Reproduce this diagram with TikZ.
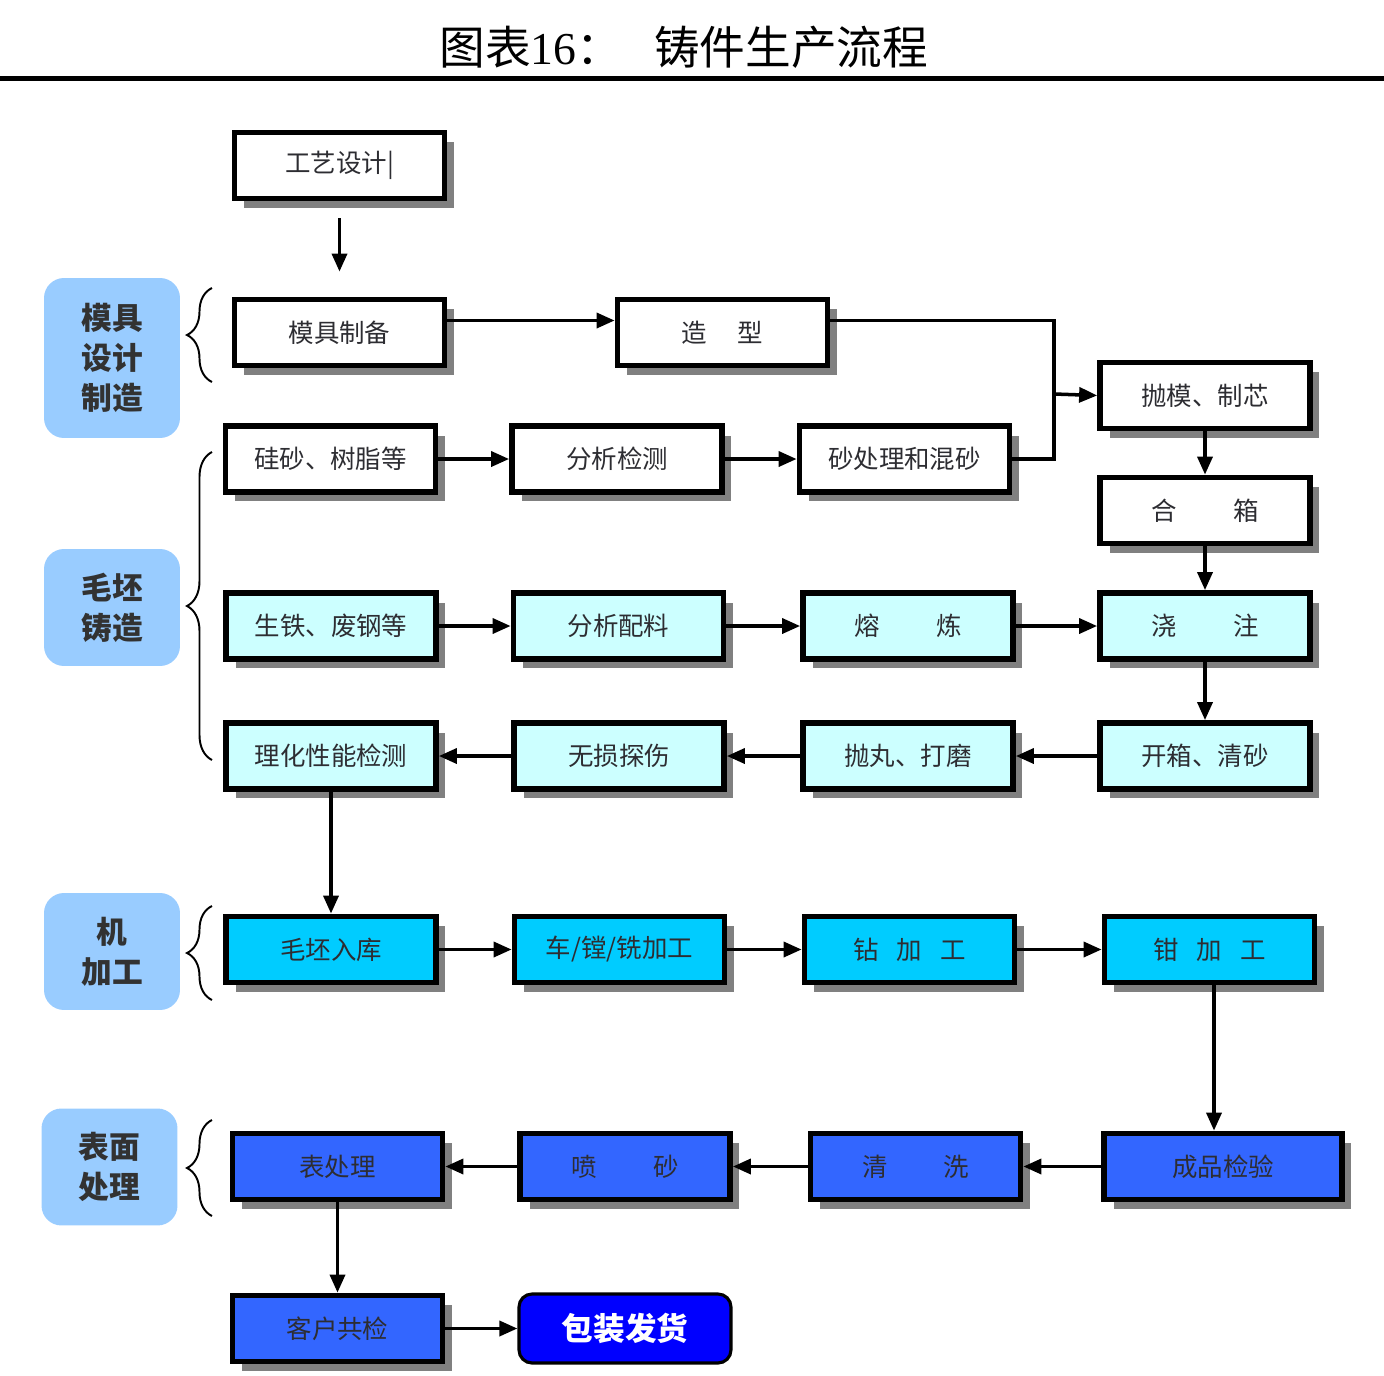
\documentclass[tikz,border=0pt]{standalone}
\usepackage{fontspec}
\setmainfont{Noto Sans CJK SC}
\newfontfamily\numfont{Liberation Serif}
\usepackage{xcolor}
\usetikzlibrary{arrows.meta, positioning, shadows, decorations.pathreplacing}
\definecolor{catblue}{RGB}{153,204,255}
\definecolor{paleaqua}{RGB}{204,255,255}
\definecolor{skycyan}{RGB}{0,204,255}
\definecolor{royal}{RGB}{51,102,255}
\definecolor{deepblue}{RGB}{0,0,255}
\definecolor{shadowgray}{RGB}{128,128,128}
\definecolor{textgray}{RGB}{45,45,50}
\definecolor{catgray}{RGB}{50,50,50}
\tikzset{
  stepbox/.style={draw=black, line width=3.3pt, minimum width=4.2cm, minimum height=1.32cm,
    inner sep=0pt, font=\fontsize{14.5pt}{17pt}\selectfont\color{textgray},
    drop shadow={shadow xshift=0.19cm, shadow yshift=-0.19cm, fill=shadowgray, opacity=1}},
  plainbox/.style={stepbox, fill=white},
  aquabox/.style={stepbox, fill=paleaqua},
  cyanbox/.style={stepbox, fill=skycyan},
  bluebox/.style={stepbox, fill=royal},
  catbox/.style={fill=catblue, rounded corners=0.4cm, minimum width=2.72cm, minimum height=2.34cm,
    align=center, font=\fontsize{17.5pt}{22.8pt}\selectfont\bfseries\color{catgray}},
  link/.style={line width=2pt},
  arr/.style={link, -{Triangle[length=0.36cm, width=0.3cm]}},
  grp/.style={decorate, decoration={brace, amplitude=0.5cm}, line width=1.1pt},
}

\begin{document}
\begin{tikzpicture}[x=0.02cm, y=-0.02cm]
  \useasboundingbox[fill=white] (0,0) rectangle (1384,1376);
  \node (title) at (684,47) {\fontsize{26pt}{30pt}\selectfont 图表{\numfont 16}：\hspace{0.7em}铸件生产流程};
  \draw[line width=0.1cm] (0,78) -- (1384,78);

  \node[catbox, minimum height=3.2cm] (moldcat) at (112,358) {模具\\设计\\制造};
  \node[catbox] (castcat) at (112,607.5) {毛坯\\铸造};
  \node[catbox] (machcat) at (112,951.5) {机\\加工};
  \node[catbox] (surfcat) at (109.5,1167) {表面\\处理};

  \draw[grp] (212,382) -- (212,288);
  \draw[grp] (212,760) -- (212,452);
  \draw[grp] (212,1000) -- (212,906);
  \draw[grp] (212,1216) -- (212,1120);

  \node[plainbox] (craft) at (339.5,165.5) {工艺设计|};
  \node[plainbox] (mold) at (339.5,332.5) {模具制备};
  \node[plainbox] (shape) at (722.5,332.5) {造\hspace{1.2em}型};
  \node[plainbox] (core) at (1205,395.5) {抛模、制芯};
  \node[plainbox] (sand) at (330.5,459) {硅砂、树脂等};
  \node[plainbox] (sandtest) at (617,459) {分析检测};
  \node[plainbox] (mix) at (904.5,459) {砂处理和混砂};
  \node[plainbox] (close) at (1205,510.5) {合\hspace{2.2em}箱};

  \node[aquabox] (iron) at (331,626) {生铁、废钢等};
  \node[aquabox] (batch) at (618.5,626) {分析配料};
  \node[aquabox] (melt) at (908,626) {熔\hspace{2.2em}炼};
  \node[aquabox] (pour) at (1205,626) {浇\hspace{2.2em}注};
  \node[aquabox] (phys) at (331,756) {理化性能检测};
  \node[aquabox] (ndt) at (619,756) {无损探伤};
  \node[aquabox] (shot) at (908,756) {抛丸、打磨};
  \node[aquabox] (open) at (1205,756) {开箱、清砂};

  \node[cyanbox] (blank) at (331,949.5) {毛坯入库};
  \node[cyanbox] (turn) at (619.5,949.5) {车/镗/铣加工};
  \node[cyanbox] (drill) at (909.5,949.5) {钻\hspace{0.7em}加\hspace{0.7em}工};
  \node[cyanbox] (fit) at (1209.5,949.5) {钳\hspace{0.7em}加\hspace{0.7em}工};

  \node[bluebox] (surf) at (337.5,1166.5) {表处理};
  \node[bluebox] (blast) at (625,1166.5) {喷\hspace{2.2em}砂};
  \node[bluebox] (wash) at (915.5,1166.5) {清\hspace{2.2em}洗};
  \node[bluebox, minimum width=4.76cm] (final) at (1223,1166.5) {成品检验};
  \node[bluebox] (cust) at (337.5,1328.5) {客户共检};
  \node[draw=black, line width=1.8pt, fill=deepblue, rounded corners=0.26cm,
        minimum width=4.24cm, minimum height=1.38cm,
        font=\fontsize{18pt}{20pt}\selectfont\bfseries\color{white}] (pack) at (625,1328.5) {包装发货};

  \coordinate (bus) at (1054,394);
  \draw[arr, shorten <=0.34cm, shorten >=0.5cm] (craft) -- (mold);
  \draw[arr] ([yshift=0.24cm]mold.east) -- ([yshift=0.24cm]shape.west);
  \draw[link] ([yshift=0.24cm]shape.east) -| (bus) |- (mix.east);
  \draw[arr] (bus) -- (core.west);
  \draw[arr] (sand.east) -- (sandtest.west);
  \draw[arr] (sandtest.east) -- (mix.west);
  \draw[arr] (core) -- (close);
  \draw[arr] (close) -- (pour);
  \draw[arr] (iron) -- (batch);
  \draw[arr] (batch) -- (melt);
  \draw[arr] (melt) -- (pour);
  \draw[arr] (pour) -- (open);
  \draw[arr] (open) -- (shot);
  \draw[arr] (shot) -- (ndt);
  \draw[arr] (ndt) -- (phys);
  \draw[arr] (phys) -- (blank);
  \draw[arr] (blank) -- (turn);
  \draw[arr] (turn) -- (drill);
  \draw[arr] (drill) -- (fit);
  \draw[arr] ([xshift=0.09cm]fit.south) -- ([xshift=0.09cm]fit.south |- final.north);
  \draw[arr] (final) -- (wash);
  \draw[arr] (wash) -- (blast);
  \draw[arr] (blast) -- (surf);
  \draw[arr] (surf) -- (cust);
  \draw[arr] (cust) -- (pack);
\end{tikzpicture}
\end{document}
